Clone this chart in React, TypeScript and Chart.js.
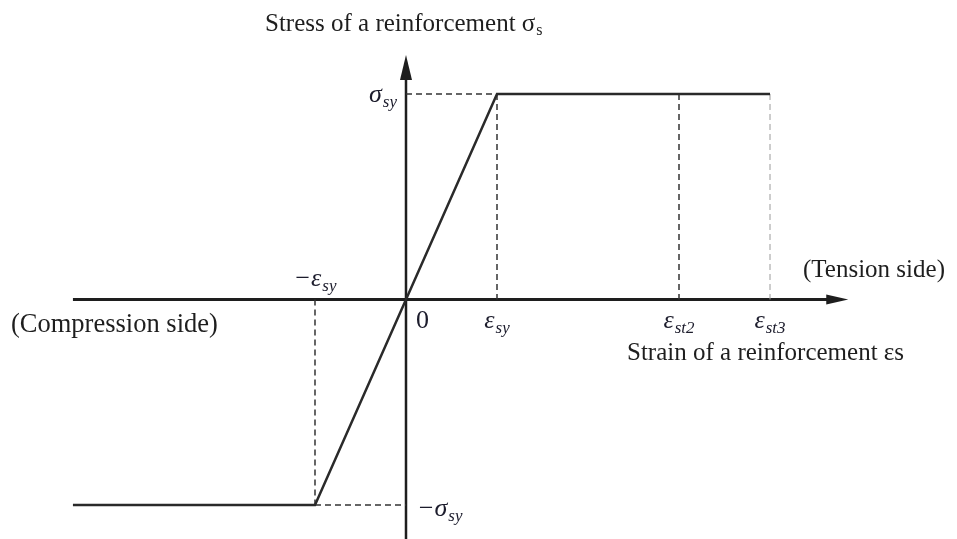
import React, { useEffect, useRef } from "react";
import { Chart, registerables } from "chart.js";

Chart.register(...registerables);

// Strain is measured in multiples of the yield strain, stress in multiples of the yield stress.
const EPS_SY = 1;
const EPS_ST2 = 3;
const EPS_ST3 = 4;
const SIGMA_SY = 1;

// Bilinear stress-strain relation of the reinforcement
const curveStrain = [-3.66, -EPS_SY, 0, EPS_SY, EPS_ST3];
const curveStress = [-SIGMA_SY, -SIGMA_SY, 0, SIGMA_SY, SIGMA_SY];

// Dashed reference lines (start / end values)
const guideStrain = [
  [0, EPS_SY],
  [EPS_SY, EPS_SY],
  [EPS_ST2, EPS_ST2],
  [EPS_ST3, EPS_ST3],
  [-EPS_SY, -EPS_SY],
  [-EPS_SY, 0],
];
const guideStress = [
  [SIGMA_SY, SIGMA_SY],
  [SIGMA_SY, 0],
  [SIGMA_SY, 0],
  [SIGMA_SY, 0],
  [0, -SIGMA_SY],
  [-SIGMA_SY, -SIGMA_SY],
];
const guideLight = [false, false, false, true, false, false];

// Tick labels on the strain axis
const strainTicks = [-EPS_SY, EPS_SY, EPS_ST2, EPS_ST3];
const strainTickBase = ["\u2212\u03b5", "\u03b5", "\u03b5", "\u03b5"];
const strainTickSub = ["sy", "sy", "st2", "st3"];
const strainTickAbove = [true, false, false, false];

// Tick labels on the stress axis
const stressTicks = [SIGMA_SY, -SIGMA_SY];
const stressTickBase = ["\u03c3", "\u2212\u03c3"];
const stressTickSub = ["sy", "sy"];

// Extent of the drawn axes
const AXIS_STRAIN_START = -3.66;
const AXIS_STRAIN_TIP = 4.86;
const AXIS_STRESS_TIP = 1.19;

const X_MIN = -4.4615;
const X_MAX = 6.0549;
const Y_MIN = -1.1655;
const Y_MAX = 1.4574;

const SERIF = '"Liberation Serif", "Times New Roman", serif';
const INK = "#1e1e1e";
const MATH_INK = "#1c1c2c";

function drawMath(
  ctx: CanvasRenderingContext2D,
  base: string,
  sub: string,
  x: number,
  y: number,
  align: "left" | "center" | "right"
) {
  const baseFont = `italic 26px ${SERIF}`;
  const subFont = `italic 17px ${SERIF}`;
  ctx.font = baseFont;
  const wb = ctx.measureText(base).width;
  ctx.font = subFont;
  const ws = ctx.measureText(sub).width;
  const total = wb + 1 + ws;
  let x0 = x;
  if (align === "center") x0 = x - total / 2;
  else if (align === "right") x0 = x - total;
  ctx.fillStyle = MATH_INK;
  ctx.textAlign = "left";
  ctx.textBaseline = "alphabetic";
  ctx.font = baseFont;
  ctx.fillText(base, x0, y);
  ctx.font = subFont;
  ctx.fillText(sub, x0 + wb + 1, y + 5);
}

const diagramPlugin = {
  id: "diagram",
  beforeDatasetsDraw(chart: any) {
    const ctx: CanvasRenderingContext2D = chart.ctx;
    const xs = chart.scales.x;
    const ys = chart.scales.y;
    const ox = xs.getPixelForValue(0);
    const oy = ys.getPixelForValue(0);
    const xStart = xs.getPixelForValue(AXIS_STRAIN_START);
    const xTip = xs.getPixelForValue(AXIS_STRAIN_TIP);
    const yTip = ys.getPixelForValue(AXIS_STRESS_TIP);
    const yBottom = chart.chartArea.bottom;

    ctx.save();
    ctx.strokeStyle = INK;
    ctx.fillStyle = INK;

    // strain axis
    ctx.lineWidth = 3;
    ctx.beginPath();
    ctx.moveTo(xStart, oy);
    ctx.lineTo(xTip - 18, oy);
    ctx.stroke();
    ctx.beginPath();
    ctx.moveTo(xTip, oy);
    ctx.lineTo(xTip - 22, oy - 5);
    ctx.lineTo(xTip - 22, oy + 5);
    ctx.closePath();
    ctx.fill();

    // stress axis
    ctx.lineWidth = 2.5;
    ctx.beginPath();
    ctx.moveTo(ox, yBottom);
    ctx.lineTo(ox, yTip + 20);
    ctx.stroke();
    ctx.beginPath();
    ctx.moveTo(ox, yTip);
    ctx.lineTo(ox - 6, yTip + 25);
    ctx.lineTo(ox + 6, yTip + 25);
    ctx.closePath();
    ctx.fill();
    ctx.restore();
  },
  afterDatasetsDraw(chart: any) {
    const ctx: CanvasRenderingContext2D = chart.ctx;
    const xs = chart.scales.x;
    const ys = chart.scales.y;
    const ox = xs.getPixelForValue(0);
    const oy = ys.getPixelForValue(0);

    ctx.save();
    // strain tick labels
    strainTicks.forEach((v, i) => {
      const px = xs.getPixelForValue(v);
      const py = strainTickAbove[i] ? oy - 13 : oy + 29;
      drawMath(ctx, strainTickBase[i], strainTickSub[i], px, py, "center");
    });
    // origin
    ctx.fillStyle = MATH_INK;
    ctx.font = `26px ${SERIF}`;
    ctx.textAlign = "left";
    ctx.textBaseline = "alphabetic";
    ctx.fillText("0", ox + 10, oy + 29);

    // stress tick labels
    stressTicks.forEach((v, i) => {
      const py = ys.getPixelForValue(v);
      if (v > 0) drawMath(ctx, stressTickBase[i], stressTickSub[i], ox - 9, py + 8, "right");
      else drawMath(ctx, stressTickBase[i], stressTickSub[i], ox + 11, py + 11, "left");
    });

    // axis titles and side notes
    ctx.fillStyle = INK;
    ctx.font = `25px ${SERIF}`;
    const title = "Stress of a reinforcement \u03c3";
    const tx = ox - 141;
    const ty = 31;
    ctx.fillText(title, tx, ty);
    const tw = ctx.measureText(title).width;
    ctx.font = `16px ${SERIF}`;
    ctx.fillText("s", tx + tw + 1, ty + 4);

    ctx.font = `25px ${SERIF}`;
    ctx.fillText("(Tension side)", 803, oy - 22);
    ctx.fillText("Strain of a reinforcement \u03b5s", 627, oy + 61);
    ctx.font = `26.5px ${SERIF}`;
    ctx.fillText("(Compression side)", 11, oy + 33);
    ctx.restore();
  },
};

export default function App() {
  const canvasRef = useRef<HTMLCanvasElement>(null);

  useEffect(() => {
    const canvas = canvasRef.current;
    if (!canvas) return;

    const datasets: any[] = [
      {
        data: curveStrain.map((x, i) => ({ x, y: curveStress[i] })),
        showLine: true,
        borderColor: "#2a2a2a",
        borderWidth: 2.5,
        pointRadius: 0,
        fill: false,
        tension: 0,
      },
      ...guideStrain.map((xsPair, i) => ({
        data: xsPair.map((x, j) => ({ x, y: guideStress[i][j] })),
        showLine: true,
        borderColor: guideLight[i] ? "#9a9a9a" : "#333333",
        borderWidth: guideLight[i] ? 1 : 1.5,
        borderDash: [6, 4],
        pointRadius: 0,
        fill: false,
      })),
    ];

    const chart = new Chart(canvas, {
      type: "scatter",
      data: { datasets },
      options: {
        animation: false,
        responsive: false,
        events: [],
        layout: { padding: 0 },
        plugins: { legend: { display: false }, tooltip: { enabled: false } },
        scales: {
          x: { type: "linear", min: X_MIN, max: X_MAX, display: false },
          y: { type: "linear", min: Y_MIN, max: Y_MAX, display: false },
        },
      },
      plugins: [diagramPlugin],
    } as any);

    return () => chart.destroy();
  }, []);

  return (
    <div style={{ position: "fixed", left: 0, top: 0, width: 957, height: 539, background: "#ffffff" }}>
      <canvas ref={canvasRef} width={957} height={539} style={{ display: "block" }} />
    </div>
  );
}
